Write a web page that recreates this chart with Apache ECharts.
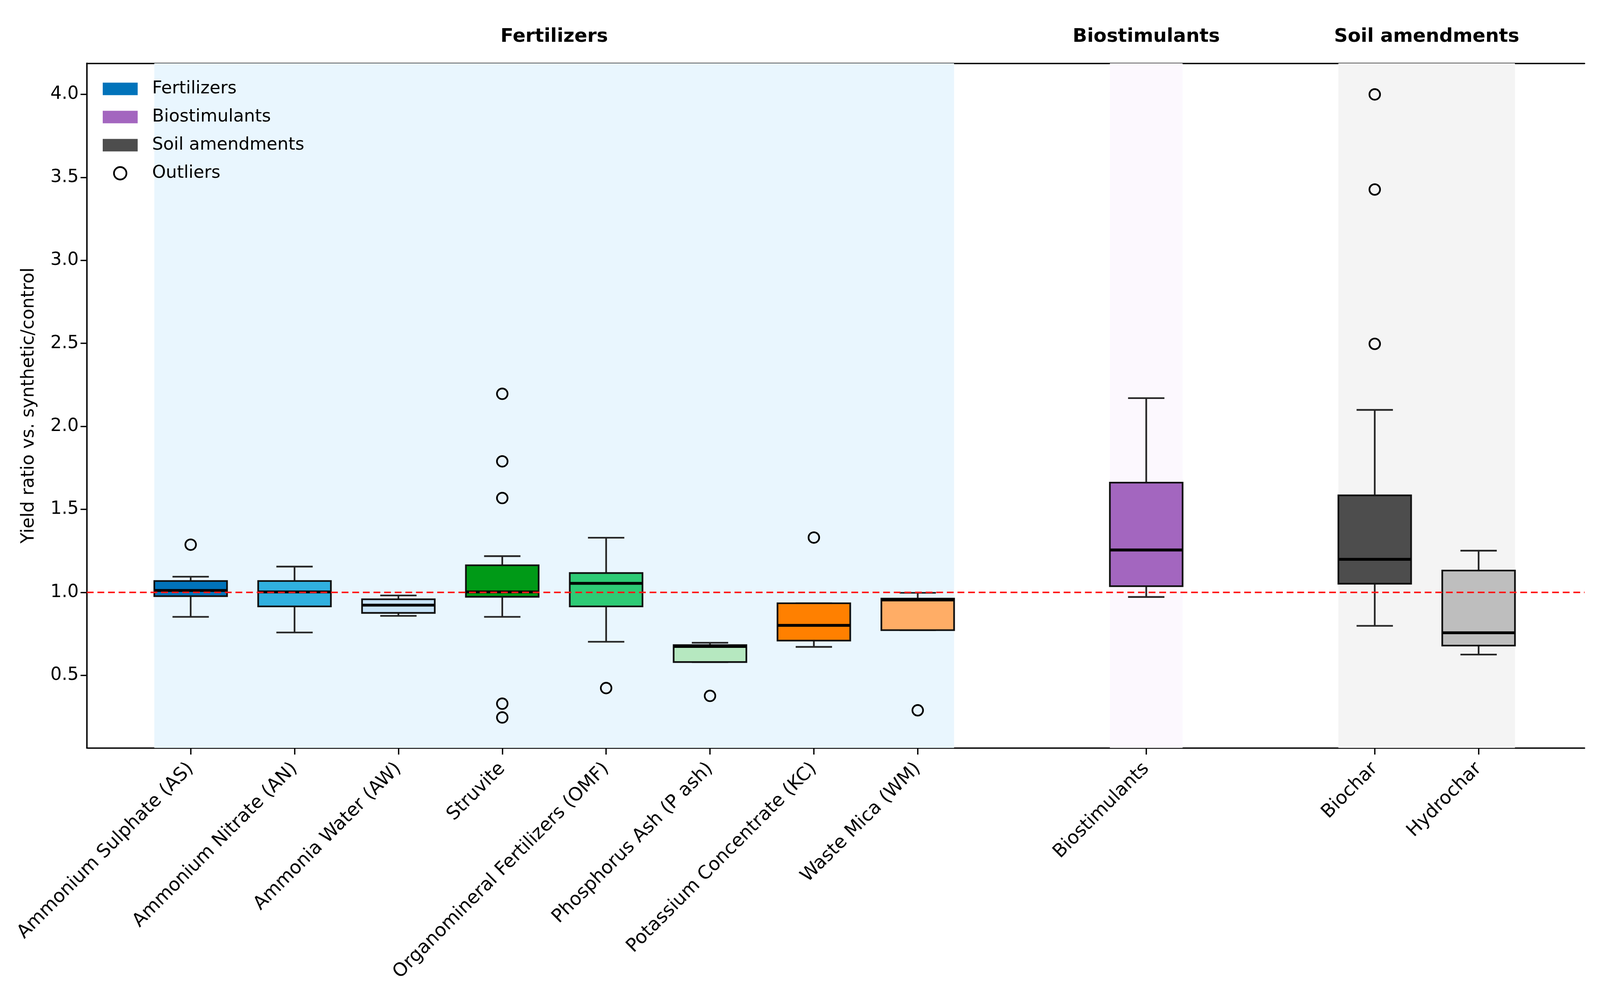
<!DOCTYPE html>
<html>
<head>
<meta charset="utf-8">
<script src="https://cdn.jsdelivr.net/npm/echarts@6/dist/echarts.min.js"></script>
<style>
  html, body { margin: 0; padding: 0; background: #fff; overflow: hidden; }
  #chart { width: 100vw; height: 100vh; }
</style>
</head>
<body>
<div id="chart"></div>
<script>
// categories and their x positions (groups separated by a gap)
var categories = ['Ammonium Sulphate (AS)', 'Ammonium Nitrate (AN)', 'Ammonia Water (AW)', 'Struvite',
  'Organomineral Fertilizers (OMF)', 'Phosphorus Ash (P ash)', 'Potassium Concentrate (KC)', 'Waste Mica (WM)',
  'Biostimulants', 'Biochar', 'Hydrochar'];
var positions = [1, 2, 3, 4, 5, 6, 7, 8, 10.2, 12.4, 13.4];
var groupOf = ['Fertilizers', 'Fertilizers', 'Fertilizers', 'Fertilizers', 'Fertilizers', 'Fertilizers', 'Fertilizers', 'Fertilizers',
  'Biostimulants', 'Soil amendments', 'Soil amendments'];

// box statistics
var whiskerLow  = [0.852, 0.758, 0.858, 0.852, 0.702, 0.580, 0.671, 0.772, 0.972, 0.798, 0.625];
var q1          = [0.977, 0.915, 0.876, 0.973, 0.915, 0.580, 0.709, 0.772, 1.037, 1.052, 0.679];
var median      = [1.011, 1.002, 0.923, 1.002, 1.054, 0.674, 0.801, 0.954, 1.255, 1.199, 0.756];
var q3          = [1.068, 1.068, 0.958, 1.163, 1.116, 0.682, 0.934, 0.962, 1.661, 1.584, 1.131];
var whiskerHigh = [1.094, 1.155, 0.981, 1.218, 1.329, 0.696, 0.934, 0.997, 2.170, 2.099, 1.251];
var outliers = [[1.287], [], [], [2.196, 1.789, 1.568, 0.329, 0.246], [0.423], [0.376], [1.330], [0.289], [],
  [4.0, 3.427, 2.497], []];

var boxColors = ['#0173ba', '#30b0df', '#c6e2f7', '#009a17', '#2dcb75', '#b6e8c0', '#ff8000', '#ffad66',
  '#a366bf', '#4d4d4d', '#bebebe'];

// group shading and legend
var groupNames = ['Fertilizers', 'Biostimulants', 'Soil amendments'];
var groupLegendColors = ['#0173ba', '#a366bf', '#4d4d4d'];
var groupShadeColors = ['#e9f6fe', '#fcf8fe', '#f4f4f4'];
var groupRanges = [[0.65, 8.35], [9.85, 10.55], [12.05, 13.75]];
var groupTitleX = [4.5, 10.2, 12.9];

var yTicks = [0.5, 1.0, 1.5, 2.0, 2.5, 3.0, 3.5, 4.0];
var xMin = 0, xMax = 14.42, yMin = 0.0625, yMax = 4.1875;
var refLine = 1.0;

var FONT = 'DejaVu Sans';

var dom = document.getElementById('chart');
// layout was measured on a 4350x2531 figure; scale to the actual window
var kx = (dom.clientWidth || window.innerWidth) / 4350;
var ky = (dom.clientHeight || window.innerHeight) / 2531;
var kf = (kx + ky) / 2;
function SX(v) { return v * kx; }
function SY(v) { return v * ky; }
function S(v) { return v * kf; }

function nameAt(v) {
  for (var i = 0; i < positions.length; i++) {
    if (Math.abs(positions[i] - v) < 1e-6) return categories[i];
  }
  return '';
}

function renderBox(params, api) {
  var i = api.value(6);
  var x = api.value(0);
  var pLo = api.coord([x, api.value(1)]);
  var pQ1 = api.coord([x, api.value(2)]);
  var pMed = api.coord([x, api.value(3)]);
  var pQ3 = api.coord([x, api.value(4)]);
  var pHi = api.coord([x, api.value(5)]);
  var half = api.size([0.7, 0])[0] / 2;
  var cap = api.size([0.35, 0])[0] / 2;
  var cx = pMed[0];
  var wStyle = { stroke: '#262626', lineWidth: S(4.5) };
  return {
    type: 'group',
    children: [
      { type: 'line', shape: { x1: cx, y1: pLo[1], x2: cx, y2: pQ1[1] }, style: wStyle },
      { type: 'line', shape: { x1: cx, y1: pQ3[1], x2: cx, y2: pHi[1] }, style: wStyle },
      { type: 'line', shape: { x1: cx - cap, y1: pLo[1], x2: cx + cap, y2: pLo[1] }, style: wStyle },
      { type: 'line', shape: { x1: cx - cap, y1: pHi[1], x2: cx + cap, y2: pHi[1] }, style: wStyle },
      { type: 'rect', shape: { x: cx - half, y: pQ3[1], width: half * 2, height: pQ1[1] - pQ3[1] },
        style: { fill: boxColors[i], stroke: '#111', lineWidth: S(4.5) } },
      { type: 'line', shape: { x1: cx - half, y1: pMed[1], x2: cx + half, y2: pMed[1] },
        style: { stroke: '#000', lineWidth: S(7.5) } }
    ]
  };
}

var series = [];

// shaded group backgrounds
series.push({
  type: 'line', data: [], z: 1, silent: true,
  markArea: {
    silent: true,
    data: groupRanges.map(function (r, j) {
      return [{ xAxis: r[0], itemStyle: { color: groupShadeColors[j] } }, { xAxis: r[1] }];
    })
  }
});

groupNames.forEach(function (g) {
  var data = [];
  for (var i = 0; i < categories.length; i++) {
    if (groupOf[i] !== g) continue;
    data.push([positions[i], whiskerLow[i], q1[i], median[i], q3[i], whiskerHigh[i], i]);
  }
  series.push({
    type: 'custom', name: g, z: 3,
    renderItem: renderBox,
    encode: { x: 0, y: [1, 2, 3, 4, 5] },
    data: data
  });
});

var outlierData = [];
outliers.forEach(function (list, i) {
  list.forEach(function (v) { outlierData.push([positions[i], v]); });
});
series.push({
  type: 'scatter', name: 'Outliers', z: 4,
  symbol: 'circle', symbolSize: S(28),
  itemStyle: { color: 'rgba(0,0,0,0)', borderColor: '#000', borderWidth: S(4.5), opacity: 1 },
  data: outlierData
});

// reference line at ratio 1
series.push({
  type: 'line', data: [], z: 6, silent: true,
  markLine: {
    silent: true, symbol: 'none', label: { show: false },
    lineStyle: { color: '#ff1a1a', type: [S(18), S(10)], width: S(4) },
    data: [{ yAxis: refLine }]
  }
});

var chart = echarts.init(dom);
var axisLine = { show: true, lineStyle: { color: '#000', width: S(3.5) } };
var option = {
  backgroundColor: '#ffffff',
  animation: false,
  textStyle: { fontFamily: FONT },
  grid: { left: SX(236), right: SX(42), top: SY(162), bottom: SY(617) },
  legend: {
    orient: 'vertical', left: SX(274), top: SY(200),
    itemWidth: SX(95), itemHeight: SY(32), itemGap: SY(27),
    textStyle: { fontSize: S(46), color: '#000', fontFamily: FONT, padding: [0, 0, 0, SX(34)] },
    data: [
      { name: 'Fertilizers', icon: 'rect', itemStyle: { color: groupLegendColors[0], borderWidth: 0 } },
      { name: 'Biostimulants', icon: 'rect', itemStyle: { color: groupLegendColors[1], borderWidth: 0 } },
      { name: 'Soil amendments', icon: 'rect', itemStyle: { color: groupLegendColors[2], borderWidth: 0 } },
      { name: 'Outliers', icon: 'circle', itemStyle: { color: 'rgba(0,0,0,0)', borderColor: '#000', borderWidth: S(4.5) } }
    ]
  },
  xAxis: [{
    type: 'value', min: xMin, max: xMax, position: 'bottom',
    axisLine: axisLine,
    axisTick: { show: true, customValues: positions, length: SY(17), lineStyle: { color: '#000', width: S(3.5) } },
    axisLabel: {
      customValues: positions, rotate: 45, margin: SY(46),
      fontSize: S(49), color: '#000', fontFamily: FONT,
      formatter: function (v) { return nameAt(v); }
    },
    splitLine: { show: false }
  }, {
    type: 'value', min: xMin, max: xMax, position: 'top',
    axisLine: axisLine,
    axisTick: { show: false }, axisLabel: { show: false }, splitLine: { show: false }
  }],
  yAxis: [{
    type: 'value', min: yMin, max: yMax, position: 'left',
    name: 'Yield ratio vs. synthetic/control', nameLocation: 'middle', nameGap: SX(133),
    nameTextStyle: { fontSize: S(47), color: '#000', fontFamily: FONT },
    axisLine: axisLine,
    axisTick: { show: true, customValues: yTicks, length: SX(17), lineStyle: { color: '#000', width: S(3.5) } },
    axisLabel: {
      customValues: yTicks, margin: SX(22),
      fontSize: S(47), color: '#000', fontFamily: FONT,
      formatter: function (v) { return v.toFixed(1); }
    },
    splitLine: { show: false }
  }, {
    type: 'value', min: yMin, max: yMax, position: 'right',
    axisLine: axisLine,
    axisTick: { show: false }, axisLabel: { show: false }, splitLine: { show: false }
  }],
  series: series
};
chart.setOption(option);

// group titles above the plot, placed via the axis scale
var titles = groupNames.map(function (g, j) {
  var p = chart.convertToPixel({ xAxisIndex: 0, yAxisIndex: 0 }, [groupTitleX[j], yMax]);
  return {
    type: 'text', x: p[0], y: p[1] - SY(68),
    style: { text: g, fontSize: S(50), fontWeight: 'bold', fill: '#000', fontFamily: FONT,
      align: 'center', verticalAlign: 'middle' }
  };
});
chart.setOption({ graphic: titles });
</script>
</body>
</html>
